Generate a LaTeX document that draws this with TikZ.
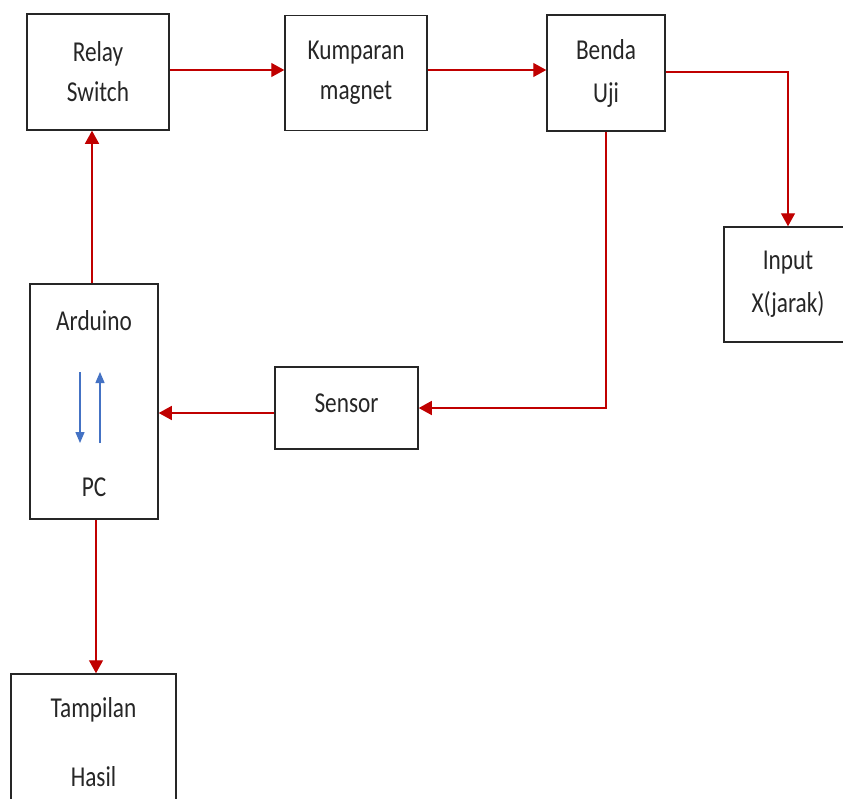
\documentclass[tikz,border=0pt]{standalone}
\usepackage{fontspec}
\usepackage{graphicx}
\setmainfont{Carlito}
\usetikzlibrary{arrows.meta}
\definecolor{arrred}{RGB}{192,0,0}
\definecolor{arrblue}{RGB}{68,114,196}
\definecolor{txtgray}{RGB}{38,38,38}
\newcommand\vst[1]{\scalebox{0.97}[1.2]{#1}}
\tikzset{
  blk/.style={draw=black!85, line width=1.5pt, fill=white, inner sep=0pt, align=center,
    text=txtgray, font=\fontsize{24}{40}\selectfont},
  lbl/.style={inner sep=0pt, text=txtgray, font=\fontsize{24}{29}\selectfont},
  redarr/.style={draw=arrred, line width=1.4pt, -{Triangle[length=13pt,width=14pt]}},
  bluearr/.style={draw=arrblue, line width=1.3pt, -{Triangle[length=11pt,width=9pt]}}
}
\begin{document}
\begin{tikzpicture}[x=1pt,y=-1pt]
\useasboundingbox (0,0) rectangle (843,798);
\clip (0,0) rectangle (843,798);
\node[blk, minimum width=142pt, minimum height=116pt] (relay) at (98,72) {\vst{Relay}\\\vst{Switch}};
\node[blk, minimum width=142pt, minimum height=115pt] (kump) at (356,73) {\vst{Kumparan}\\\vst{magnet}};
\node[blk, minimum width=118pt, minimum height=116pt, font=\fontsize{24}{43}\selectfont] (benda) at (606,73) {\vst{Benda}\\\vst{Uji}};
\node[blk, minimum width=128pt, minimum height=115pt, font=\fontsize{24}{43}\selectfont] (input) at (788,284.5) {\vst{Input}\\\vst{X(jarak)}};
\node[blk, minimum width=128pt, minimum height=235pt] (ard) at (94,401.5) {};
\node[lbl] (ardtxt) at (94,321) {\vst{Arduino}};
\node[lbl] (pctxt) at (94,487) {\vst{PC}};
\node[blk, minimum width=143pt, minimum height=82pt, text depth=0pt] (sensor) at (346.5,408) {\raisebox{10pt}{\vst{Sensor}}};
\node[blk, minimum width=165pt, minimum height=136pt, font=\fontsize{24}{69}\selectfont] (tamp) at (93.5,742) {\vst{Tampilan}\\\vst{Hasil}};
\coordinate (bd1) at (80,372);
\coordinate (bd2) at (80,443);
\coordinate (bu1) at (100,443);
\coordinate (bu2) at (100,372);
\draw[bluearr] (bd1) -- (bd2);
\draw[bluearr] (bu1) -- (bu2);
\draw[redarr] ([yshift=2pt]relay.east) -- ([yshift=2pt]relay.east -| kump.west);
\draw[redarr] ([yshift=3pt]kump.east) -- ([yshift=3pt]kump.east -| benda.west);
\draw[redarr] ([yshift=1pt]benda.east) -| (input.north);
\draw[redarr] (benda.south) |- (sensor.east);
\draw[redarr] ([yshift=-5pt]sensor.west) -- ([yshift=-5pt]sensor.west -| ard.east);
\draw[redarr] ([xshift=-2pt]ard.north) -- ([xshift=-2pt]ard.north |- relay.south);
\draw[redarr] ([xshift=2pt]ard.south) -- ([xshift=2pt]ard.south |- tamp.north);
\end{tikzpicture}
\end{document}
